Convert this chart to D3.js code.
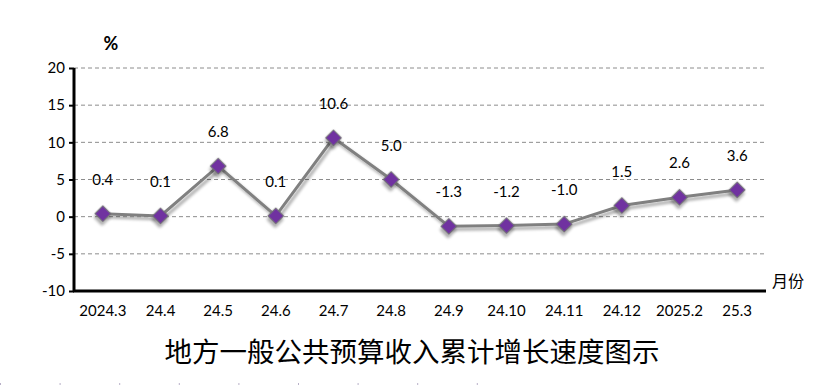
<!DOCTYPE html>
<html><head><meta charset="utf-8">
<script src="https://cdn.jsdelivr.net/npm/d3@7/dist/d3.min.js"></script>
<style>body{margin:0;background:#fff}svg{display:block}</style>
</head><body>
<svg id="c" width="825" height="385"></svg>
<script>
const categories = ["2024.3","24.4","24.5","24.6","24.7","24.8","24.9","24.10","24.11","24.12","2025.2","25.3"];
const values = [0.4,0.1,6.8,0.1,10.6,5.0,-1.3,-1.2,-1.0,1.5,2.6,3.6];
const labels = ["0.4","0.1","6.8","0.1","10.6","5.0","-1.3","-1.2","-1.0","1.5","2.6","3.6"];
const yTicks = [-10,-5,0,5,10,15,20];
const title = "地方一般公共预算收入累计增长速度图示";

(function(){
const svg = d3.select("#c");
const mL = 74, mR = 766, mT = 68, mB = 291;
const x = d3.scaleBand().domain(categories).range([mL, mR]);
const y = d3.scaleLinear().domain([-10, 20]).range([mB, mT]);
const font = "Lato, 'Noto Sans', sans-serif";

const defs = svg.append("defs");
const f = defs.append("filter").attr("id","sh").attr("x","-50%").attr("y","-50%").attr("width","200%").attr("height","200%");
f.append("feGaussianBlur").attr("in","SourceAlpha").attr("stdDeviation",1.8).attr("result","b");
f.append("feOffset").attr("in","b").attr("dx",2).attr("dy",3).attr("result","o");
f.append("feComponentTransfer").attr("in","o").attr("result","o2").append("feFuncA").attr("type","linear").attr("slope",0.35);
const m = f.append("feMerge"); m.append("feMergeNode").attr("in","o2"); m.append("feMergeNode").attr("in","SourceGraphic");

// gridlines
svg.append("g").selectAll("line").data(yTicks.filter(d => d !== -10)).join("line")
  .attr("x1", mL).attr("x2", mR).attr("y1", d => y(d)).attr("y2", d => y(d))
  .attr("stroke", "#8c8c8c").attr("stroke-width", 1).attr("stroke-dasharray", "4,3");

// y axis
const ya = svg.append("g").attr("transform", `translate(${mL},0)`)
  .call(d3.axisLeft(y).tickValues(yTicks).tickFormat(d => String(d)).tickSize(5).tickPadding(4));
ya.select(".domain").attr("stroke","#000").attr("stroke-width",3).attr("d", `M0,${mT}V${mB}`);
ya.selectAll(".tick line").attr("stroke","#000").attr("stroke-width",2);
ya.selectAll("text").attr("font-family", font).attr("font-size", 15).attr("fill","#000");

// x axis
const xa = svg.append("g").attr("transform", `translate(0,${mB})`)
  .call(d3.axisBottom(x).tickSize(0).tickPadding(14));
xa.select(".domain").attr("stroke","#000").attr("stroke-width",3).attr("d", `M${mL-1},0H${mR}`);
xa.selectAll("text").attr("font-family", font).attr("font-size", 15).attr("fill","#000");

// line
const cx = d => x(d) + x.bandwidth()/2;
const pts = categories.map((c,i) => [cx(c), y(values[i])]);
svg.append("path").datum(pts).attr("d", d3.line())
  .attr("fill","none").attr("stroke","#808080").attr("stroke-width",3).attr("filter","url(#sh)");

// markers
svg.append("g").selectAll("path").data(categories).join("path")
  .attr("d", d3.symbol().type(d3.symbolSquare).size(128))
  .attr("transform", (d,i) => `translate(${cx(d)},${y(values[i])}) rotate(45)`)
  .attr("fill", "#7030a0").attr("stroke","#6f6f6f").attr("stroke-width",1).attr("filter","url(#sh)");

// data labels
svg.append("g").selectAll("text").data(categories).join("text")
  .attr("x", d => cx(d)).attr("y", (d,i) => y(values[i]) - 29)
  .attr("text-anchor","middle").attr("font-family", font).attr("font-size", 15).attr("fill","#000")
  .text((d,i) => labels[i]);

// unit labels
svg.append("text").attr("x", 111).attr("y", 50).attr("text-anchor","middle")
  .attr("font-family", font).attr("font-size", 18).attr("font-weight","bold").text("%");
svg.append("text").attr("x", 772).attr("y", 287).attr("font-family", "'Noto Sans CJK SC', sans-serif")
  .attr("font-size", 16).text("月份");

// title
svg.append("text").attr("x", 412).attr("y", 362).attr("text-anchor","middle")
  .attr("font-family", "'Noto Sans CJK SC', sans-serif").attr("font-size", 27.5).attr("fill","#000").text(title);

// faint bottom marks
svg.append("g").selectAll("line").data(d3.range(0, 9)).join("line")
  .attr("x1", d => 0.5 + d*59.6).attr("x2", d => 0.5 + d*59.6).attr("y1", 383).attr("y2", 385)
  .attr("stroke","#b8b0c8").attr("stroke-width",1);
})();
</script>
</body></html>
